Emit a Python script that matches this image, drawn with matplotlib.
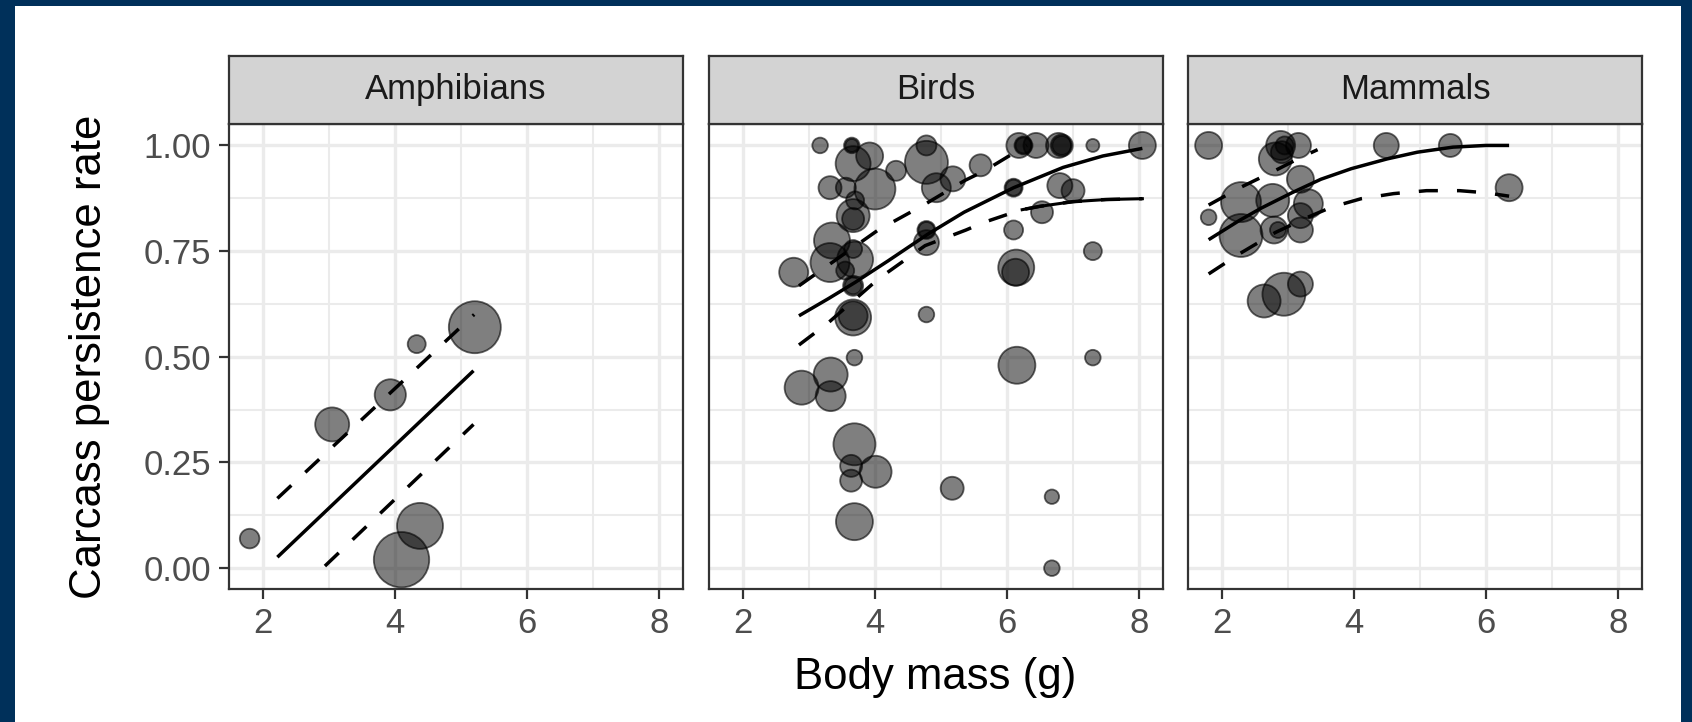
import numpy as np
import matplotlib
matplotlib.use("Agg")
import matplotlib.pyplot as plt
from matplotlib.patches import Rectangle

plt.rcParams["font.family"] = ["Liberation Sans", "DejaVu Sans"]

# ---- data ----
panels = ["Amphibians", "Birds", "Mammals"]

amph_x = [1.80, 3.05, 3.93, 4.33, 5.21, 4.38, 4.10]
amph_y = [0.07, 0.34, 0.41, 0.53, 0.57, 0.10, 0.02]
amph_r = [9.8, 17, 15.6, 9, 26, 23, 27.7]

birds_x = [3.17, 3.65, 3.65, 3.92, 3.67, 4.32, 4.00, 3.32, 3.56, 3.70, 3.67, 3.67,
           3.35, 3.32, 3.70, 3.67, 2.77, 3.55, 3.67, 3.67, 3.67, 3.67,
           4.78, 4.78, 4.93, 4.78, 4.78, 4.78, 4.78,
           5.18, 5.60, 6.18, 6.25, 6.25, 6.44, 6.78, 6.83, 6.83, 7.30, 8.05,
           6.10, 6.10, 6.80, 7.00, 6.53, 6.10, 7.30, 6.14, 6.13,
           3.69, 6.15, 7.30, 3.33, 2.89, 3.33, 3.69, 3.64, 3.64, 4.01, 5.17,
           6.68, 3.69, 6.68]
birds_y = [1.00, 1.00, 1.00, 0.975, 0.957, 0.94, 0.897, 0.90, 0.90, 0.87, 0.834, 0.826,
           0.775, 0.723, 0.73, 0.755, 0.70, 0.704, 0.668, 0.668, 0.593, 0.597,
           1.00, 0.96, 0.90, 0.80, 0.80, 0.77, 0.60,
           0.921, 0.953, 1.00, 1.00, 1.00, 1.00, 1.00, 1.00, 1.00, 1.00, 1.00,
           0.90, 0.90, 0.905, 0.893, 0.842, 0.80, 0.75, 0.711, 0.70,
           0.498, 0.48, 0.498, 0.458, 0.427, 0.407, 0.293, 0.242, 0.207, 0.228, 0.189,
           0.169, 0.11, 0.00]
birds_r = [7.8, 7.8, 6.5, 13.5, 17.5, 10, 20.5, 11.5, 10, 9, 16.5, 11,
           18, 19.5, 18, 9, 14.5, 9, 10, 8.5, 18, 14.5,
           10, 21.5, 14.5, 9, 8, 12.5, 7.8,
           12.5, 11, 12.5, 9, 8, 12.5, 12.5, 11, 9.5, 6.5, 13.5,
           9, 8, 12.5, 11.5, 11, 9.5, 9, 18, 13.5,
           7.8, 18.5, 7.8, 17, 17, 15, 21, 11, 11, 16, 11.5,
           7.2, 18.5, 7.8]

mamm_x = [1.80, 1.80, 2.89, 3.16, 2.81, 2.91, 2.95, 3.19, 2.29, 2.77, 3.31, 3.19,
          2.29, 2.79, 2.85, 3.19, 4.49, 5.46, 6.35, 2.64, 2.94, 3.19]
mamm_y = [1.00, 0.83, 1.00, 1.00, 0.968, 0.984, 1.00, 0.92, 0.866, 0.87, 0.862, 0.834,
          0.787, 0.80, 0.80, 0.80, 1.00, 1.00, 0.90, 0.632, 0.648, 0.672]
mamm_r = [13.5, 7.8, 14.5, 12.5, 16.5, 11, 9, 13.5, 20, 16.5, 14.5, 12.5,
          21.5, 13.5, 8, 12.5, 12.5, 11.5, 13.5, 16.5, 21.5, 12.5]

# fitted curves (estimate, lower, upper)
amph_fit_x = [2.22, 5.19]
amph_fit_y = [0.026, 0.467]
amph_up_x = [2.22, 5.20]
amph_up_y = [0.165, 0.60]
amph_lo_x = [2.94, 5.19]
amph_lo_y = [0.005, 0.34]

birds_fit_x = [2.85, 3.3, 3.7, 4.2, 4.8, 5.35, 6.1, 6.85, 7.45, 8.05]
birds_fit_y = [0.597, 0.638, 0.676, 0.727, 0.790, 0.842, 0.900, 0.948, 0.975, 0.993]
birds_up_x = [2.85, 3.35, 4.05, 4.76, 5.36, 5.66, 6.03, 6.30]
birds_up_y = [0.668, 0.723, 0.80, 0.861, 0.917, 0.94, 0.975, 1.00]
birds_lo_x = [2.85, 3.29, 4.05, 4.76, 5.38, 5.65, 6.03, 6.23, 6.5, 7.0, 7.5, 8.05]
birds_lo_y = [0.528, 0.58, 0.684, 0.763, 0.80, 0.818, 0.838, 0.848, 0.856, 0.867, 0.872, 0.874]

mamm_fit_x = [1.8, 2.26, 2.6, 3.06, 3.5, 3.96, 4.5, 4.96, 5.5, 6.0, 6.35]
mamm_fit_y = [0.777, 0.822, 0.852, 0.888, 0.92, 0.945, 0.968, 0.984, 0.996, 1.0, 1.0]
mamm_up_x = [1.8, 2.3, 2.8, 3.2, 3.45]
mamm_up_y = [0.859, 0.902, 0.94, 0.972, 0.99]
mamm_lo_x = [1.8, 2.26, 2.81, 3.3, 3.66, 4.11, 4.6, 5.1, 5.6, 6.0, 6.35]
mamm_lo_y = [0.696, 0.743, 0.794, 0.83, 0.854, 0.874, 0.886, 0.893, 0.893, 0.888, 0.88]

points = [(amph_x, amph_y, amph_r), (birds_x, birds_y, birds_r), (mamm_x, mamm_y, mamm_r)]
fits = [
    [(amph_fit_x, amph_fit_y, "-"), (amph_up_x, amph_up_y, "--"), (amph_lo_x, amph_lo_y, "--")],
    [(birds_fit_x, birds_fit_y, "-"), (birds_up_x, birds_up_y, "--"), (birds_lo_x, birds_lo_y, "--")],
    [(mamm_fit_x, mamm_fit_y, "-"), (mamm_up_x, mamm_up_y, "--"), (mamm_lo_x, mamm_lo_y, "--")],
]

# ---- layout (pixels) ----
W, H = 1692, 722
fig = plt.figure(figsize=(W / 100, H / 100), dpi=100, facecolor="#00305A")
fig.add_artist(Rectangle((15 / W, 0), 1666 / W, 716 / H, transform=fig.transFigure,
                         facecolor="white", edgecolor="none", zorder=-10))

lefts = [229, 709, 1188]
pw = 454
ptop, pbot = 124.3, 589.3
strip_top = 55.5

for i, name in enumerate(panels):
    ax = fig.add_axes([lefts[i] / W, (H - pbot) / H, pw / W, (pbot - ptop) / H])
    ax.set_xlim(1.4875, 8.3625)
    ax.set_ylim(-0.05, 1.05)
    ax.set_xticks([2, 4, 6, 8])
    ax.set_xticks([3, 5, 7], minor=True)
    ax.set_yticks([0, 0.25, 0.5, 0.75, 1.0])
    ax.set_yticks([0.125, 0.375, 0.625, 0.875], minor=True)
    ax.grid(which="major", color="#EBEBEB", lw=2.4, zorder=0)
    ax.grid(which="minor", color="#EBEBEB", lw=1.5, zorder=0)
    ax.set_axisbelow(True)
    for sp in ax.spines.values():
        sp.set_color("#333333")
        sp.set_linewidth(1.6)
    ax.tick_params(which="major", length=7, width=1.6, color="#333333",
                   labelsize=25, labelcolor="#4D4D4D", pad=6)
    ax.tick_params(which="minor", length=0)
    ax.set_xticklabels(["2", "4", "6", "8"])
    if i == 0:
        ax.set_yticklabels(["0.00", "0.25", "0.50", "0.75", "1.00"])
    else:
        ax.tick_params(axis="y", which="major", length=0, labelleft=False)

    px, py, pr = points[i]
    s = (1.44 * np.array(pr)) ** 2
    ax.scatter(px, py, s=s, facecolor=(0, 0, 0, 0.5), edgecolor=(0, 0, 0, 0.6),
               linewidths=1.3, zorder=3, clip_on=False)

    for fx, fy, ls in fits[i]:
        if ls == "-":
            ax.plot(fx, fy, color="black", lw=2.5, solid_capstyle="butt",
                    solid_joinstyle="round", zorder=4)
        else:
            ax.plot(fx, fy, color="black", lw=2.5, dashes=(5.5, 5.5), zorder=4)
    if name == "Birds":
        tx = [x for x in birds_lo_x if x >= 6.23]
        ty = birds_lo_y[len(birds_lo_x) - len(tx):]
        ax.plot(tx, ty, color="black", lw=2.2, zorder=4)

    # strip
    sax = fig.add_axes([lefts[i] / W, (H - ptop) / H, pw / W, (ptop - strip_top) / H])
    sax.set_facecolor("#D3D3D3")
    sax.set_xticks([])
    sax.set_yticks([])
    for sp in sax.spines.values():
        sp.set_color("#333333")
        sp.set_linewidth(1.6)
    sax.text(0.5, 0.5, name, ha="center", va="center", fontsize=25, color="#1A1A1A",
             transform=sax.transAxes)

fig.text(89 / W, 1 - 357 / H, "Carcass persistence rate", rotation=90,
         ha="center", va="center", fontsize=31.5, color="black")
fig.text(935 / W, 1 - 678 / H, "Body mass (g)", ha="center", va="center",
         fontsize=31.5, color="black")

fig.savefig("out.png", dpi=100, facecolor=fig.get_facecolor())
